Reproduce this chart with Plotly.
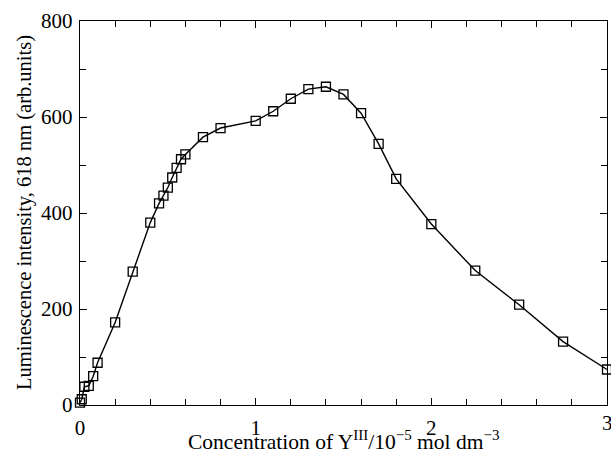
import plotly.graph_objects as go

conc = [0, 0.01, 0.025, 0.05, 0.075, 0.1, 0.2, 0.3, 0.4, 0.45, 0.475, 0.5, 0.525, 0.55,
        0.575, 0.6, 0.7, 0.8, 1.0, 1.1, 1.2, 1.3, 1.4, 1.5, 1.6, 1.7, 1.8, 2.0, 2.25,
        2.5, 2.75, 3.0]
intensity = [5, 12, 38, 40, 60, 88, 172, 278, 380, 420, 436, 453, 474, 494,
             512, 522, 558, 577, 592, 612, 638, 658, 663, 647, 608, 544, 471, 377, 280,
             209, 132, 74]

x_ticks = [0, 1, 2, 3]
y_ticks = [0, 200, 400, 600, 800]
x_title = "Concentration of Y<sup>III</sup>/10<sup>−5</sup> mol dm<sup>−3</sup>"
y_title = "Luminescence intensity, 618 nm (arb.units)"

fig = go.Figure()
fig.add_trace(go.Scatter(
    x=conc, y=intensity, mode="lines+markers",
    line=dict(color="black", width=1.4),
    marker=dict(symbol="square-open", size=9, color="black", line=dict(width=1.3)),
    showlegend=False, cliponaxis=False,
))

font = "Liberation Serif, Times New Roman, serif"
axis_common = dict(
    showline=True, linecolor="black", linewidth=1.4, mirror="ticks",
    ticks="inside", ticklen=7, tickwidth=1.2, tickcolor="black",
    showgrid=False, zeroline=False, automargin=False,
    tickfont=dict(family=font, size=21, color="black"),
)
fig.update_xaxes(
    range=[0, 3], tickvals=x_ticks[:-1], ticktext=[str(v) for v in x_ticks[:-1]],
    minor=dict(dtick=0.2, ticks="inside", ticklen=6, tickwidth=1.1, tickcolor="black", showgrid=False),
    ticklabelstandoff=4,
    **axis_common,
)
fig.update_yaxes(
    range=[0, 800], tickvals=y_ticks, ticktext=[str(v) for v in y_ticks],
    minor=dict(dtick=100, ticks="inside", ticklen=6, tickwidth=1.1, tickcolor="black", showgrid=False),
    ticklabelstandoff=2,
    **axis_common,
)
# last x tick label sits at the right edge of the page (partly cut in the reference)
fig.add_annotation(
    x=x_ticks[-1], y=0, xref="x", yref="paper", text=str(x_ticks[-1]),
    showarrow=False, yanchor="top", xanchor="center", yshift=-4,
    font=dict(family=font, size=21, color="black"),
)
fig.add_annotation(
    x=0.5, y=0, xref="paper", yref="paper", text=x_title,
    showarrow=False, yanchor="bottom", xanchor="center", yshift=-51,
    font=dict(family=font, size=21.5, color="black"),
)
fig.add_annotation(
    x=0, y=0.5, xref="paper", yref="paper", text=y_title, textangle=-90,
    showarrow=False, yanchor="middle", xanchor="center", xshift=-56,
    font=dict(family=font, size=20.5, color="black"),
)
fig.update_layout(
    width=611, height=454,
    margin=dict(l=80, r=4, t=21, b=49),
    paper_bgcolor="white", plot_bgcolor="white",
)
fig.write_html(
    "out.html",
    config={"displayModeBar": False},
    post_script="document.body.style.margin='0';document.body.style.overflow='hidden';",
)
